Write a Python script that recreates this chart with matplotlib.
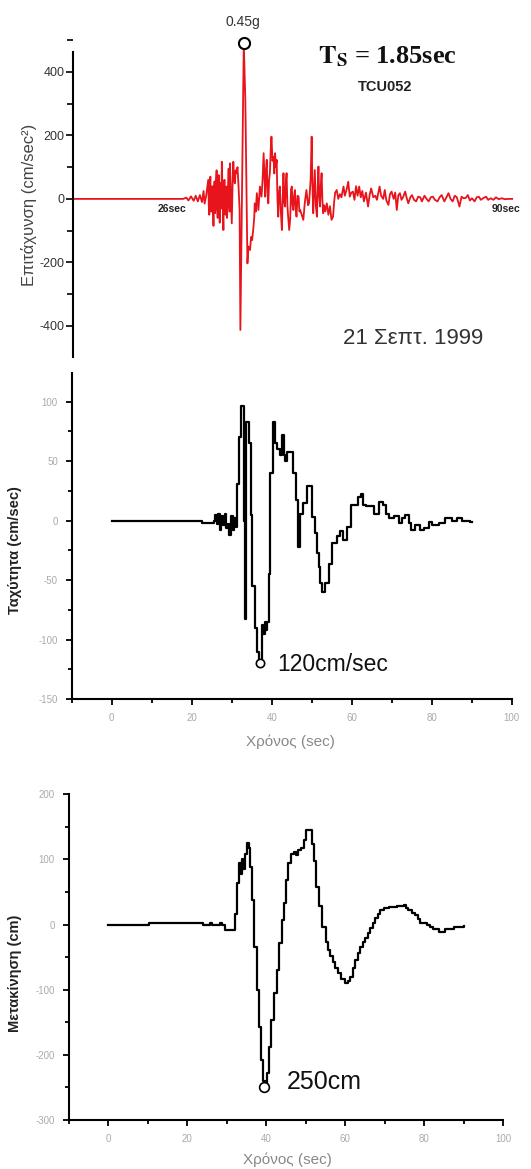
import numpy as np
import matplotlib
matplotlib.use("Agg")
import matplotlib.pyplot as plt
from matplotlib.ticker import MultipleLocator

plt.rcParams.update({
    "font.family": ["Liberation Sans", "DejaVu Sans"],
    "axes.unicode_minus": False,
    "mathtext.fontset": "stix",
})

# ---------------- data ----------------
# acceleration (cm/sec^2), time in sec
acc_t = [5.9, 27.0, 27.6, 28.0, 28.5, 29.0, 29.4, 29.8, 30.2, 30.6, 30.9, 31.1, 31.4,
         31.8, 31.9, 32.0, 32.1, 32.2, 32.3, 32.4, 32.5, 32.6, 32.7, 32.8, 32.9, 33.0,
         33.1, 33.2, 33.3, 33.4, 33.5, 33.6, 33.7, 33.8, 33.9, 34.0, 34.1, 34.2, 34.3,
         34.4, 34.5, 34.6, 34.7, 34.8, 34.9, 35.0, 35.1, 35.2, 35.3, 35.4, 35.5, 35.6,
         35.7, 35.8, 35.9, 35.96, 36.1, 36.3, 36.45, 36.6,
         36.75, 36.9, 37.05, 37.2, 37.4, 37.6, 37.8, 37.95, 38.6, 38.9, 39.3, 39.5, 39.8,
         40.0, 40.2, 40.4, 40.6, 40.7, 40.9, 41.1, 41.4, 41.7, 42.0, 42.2, 42.4, 42.55,
         42.7, 42.85, 43.0, 43.15, 43.3, 43.45, 43.6, 43.75, 43.9, 44.1, 44.3, 44.45, 44.6,
         44.75, 44.9, 45.05, 45.2, 45.35, 45.5, 45.7, 45.9, 46.05, 46.2, 46.35, 46.5, 46.65,
         46.8, 46.95, 47.1, 47.3, 47.5, 47.65, 47.8, 47.95, 48.1, 48.25, 48.4, 48.55, 48.7,
         48.9, 49.1, 49.25, 49.4, 49.7, 50.0, 50.3, 50.6, 50.9, 51.1, 51.4, 51.6, 51.75,
         51.9, 52.05, 52.2, 52.4, 52.6, 52.75, 52.9, 53.05, 53.2, 53.35, 53.5, 53.65, 53.8,
         54.0, 54.2, 54.5, 54.8, 55.1, 55.4, 55.7, 55.9, 56.1, 56.4, 56.7, 57.0, 57.3,
         57.7, 57.95, 58.3, 58.6, 58.9, 59.2, 59.5, 59.8, 60.1, 60.4, 60.7, 61.0, 61.3,
         61.6, 62.0, 62.4, 62.7, 63.0, 63.4, 63.8, 64.1, 64.6, 64.9, 65.3, 65.6, 65.9,
         66.3, 66.6, 66.9, 67.3, 67.6, 67.9, 68.2, 68.5, 68.8, 69.1, 69.5, 69.8, 70.1,
         70.5, 70.8, 71.2, 71.6, 72.0, 72.4, 72.7, 73.2, 73.6, 74.0, 74.4, 74.8, 75.2,
         75.7, 76.1, 76.5, 77.0, 77.4, 77.8, 78.2, 78.6, 79.0, 79.4, 79.9, 80.3, 80.7,
         81.1, 81.5, 81.9, 82.3, 82.8, 83.2, 83.6, 84.0, 84.5, 85.0, 85.4, 85.9, 86.4,
         86.9, 87.4, 88.0, 88.6, 89.2, 90.0]
acc_a = [0, 0, 4, -5, 8, -6, 10, -8, 12, -10, 25, -15, 10,
         60, -20, -50, 30, 70, -10, -40, 20, 40, -30, -85, 10, 55,
         -45, -30, 60, 90, -20, -60, 30, 75, -10, -75, 20, 50, -30,
         117, 30, -40, -98, 10, 60, -20, -50, 25, 39, -60, -20, 50,
         95, 20, -40, 112, 30, -77, 40, 117,
         60, 49, 90, 81, 100, 39, -35, -413, 490, 312, -203, -150, -161,
         -120, -130, -98, -60, -14, -40, 18, -35, 39, 7, 60, 144, 80,
         7, 90, 123, 20, -14, 60, 81, 150, 196, 120, 133, 80, 144,
         100, 123, 0, -56, 20, 39, -40, -98, 0, 81, -10, -24, 50,
         81, -20, -56, -98, -60, 30, 39, -20, -35, 10, 28, -30, -56,
         10, 7, -40, -35, -50, -66, -10, 28, -20, -14, 60, 196, 40,
         -45, 20, 91, -20, -56, 30, 102, 10, -24, 40, 81, 0, -45,
         -20, -40, -14, -50, -23, -66, -56, -10, 20, 28, 0, 15, 5,
         39, 10, 30, 54, 7, 20, 23, -3, 40, 10, 39, 5, 25,
         -8, 20, -24, 12, 33, 5, 10, -3, 39, 10, 0, 28, -5,
         -19, 15, 23, 0, 20, -35, 12, 18, -3, 5, 23, 3, -14,
         5, 12, -3, -8, 7, 5, -8, 10, 0, -8, 5, 7, -3,
         -8, 5, 12, -8, 5, 18, 0, -8, 10, 5, -24, 7, 2,
         3, 12, -5, 2, -8, 5, 7, -3, 3, 7, -3, 2, -3,
         5, -1, 2, -1, 0, 0]
acc_peak = (38.6, 490)

# velocity (cm/sec)
vel_t = [0, 22.5, 25.5, 25.8, 26.2, 26.6, 27.0, 27.4, 27.8, 28.2, 28.6, 29.0, 29.4,
         29.8, 30.2, 30.6, 31.0, 31.3, 31.9, 32.4, 33.1, 33.4, 33.6, 34.3, 34.7, 35.0,
         35.8, 36.4, 36.9, 37.5, 37.8, 38.2, 38.5, 38.9, 39.2, 39.6, 40.2, 40.8, 41.4,
         42.1, 42.6, 43.0, 43.4, 43.7, 44.6, 45.4, 46.1, 46.5, 47.0, 47.9, 48.7, 49.6,
         50.0, 50.8, 51.2, 51.7, 52.1, 52.5, 53.3, 54.2, 55.0, 56.2, 57.1, 57.9, 58.7,
         59.9, 61.5, 62.3, 62.9, 63.6, 65.6, 66.9, 67.7, 68.5, 69.3, 70.6, 71.8, 72.6,
         73.4, 74.3, 74.7, 75.9, 77.1, 78.0, 79.2, 80.0, 81.7, 83.3, 85.0, 86.2, 87.5,
         89.6, 90.0]
vel_v = [0, -2, 0, 5, -3, 6, -8, 4, -4, 6, -6, -3, -12,
         4, -8, 2, -5, 31, 70, 96, 0, -83, 83, 65, 5, -55,
         -90, -110, -118, -88, -95, -85, -92, -85, -45, 40, 83, 65, 60,
         55, 72, 55, 50, 58, 58, 40, 17, -22, 6, 15, 29, 29,
         3, -10, -27, -39, -52, -60, -52, -36, -19, -13, -9, -16, -5,
         13, 20, 22, 13, 12, 6, 16, 13, 6, 2, 4, -2, 2,
         5, -2, -8, -4, -8, -6, -1, -4, -2, 2, 0, 2, 0,
         -1, -1]
vel_peak = (37.1, -120)

# displacement (cm)
dis_t = [0, 10.4, 24.1, 25.7, 26.3, 28.2, 28.7, 29.5, 32.1, 32.7, 33.2, 33.5, 33.8,
         34.1, 34.6, 35.0, 35.6, 35.9, 36.3, 36.9, 37.6, 38.2, 38.7, 39.2, 39.7, 40.1,
         40.6, 41.2, 42.0, 42.6, 43.3, 43.9, 44.5, 45.0, 45.6, 46.2, 47.0, 47.6, 48.1,
         48.9, 49.5, 50.1, 50.9, 51.5, 52.1, 52.7, 53.4, 54.1, 55.0, 55.6, 56.1, 56.8,
         57.5, 58.2, 59.0, 59.9, 60.6, 61.2, 61.9, 62.5, 63.1, 63.7, 64.4, 65.0, 65.7,
         66.3, 67.0, 67.6, 68.2, 68.8, 69.8, 71.0, 73.1, 74.8, 75.4, 76.0, 76.9, 77.7,
         78.4, 79.0, 80.6, 81.5, 82.3, 83.6, 85.3, 87.4, 90.0]
dis_d = [0, 3, 0, 2, 0, 2, 0, -8, 17, 64, 95, 78, 100,
         85, 109, 125, 118, 89, 37, -34, -100, -157, -208, -240, -245, -228,
         -188, -147, -105, -70, -29, 7, 33, 69, 94, 109, 112, 107, 115,
         118, 130, 145, 145, 124, 97, 58, 28, -3, -26, -39, -49, -58,
         -67, -75, -84, -90, -86, -80, -67, -54, -44, -34, -27, -21, -13,
         -6, 2, 10, 16, 22, 25, 27, 28, 30, 26, 22, 18, 15,
         8, 3, -1, -4, -7, -11, -7, -3, -2]
dis_peak = (39.3, -250)

W, H = 531, 1169
fig = plt.figure(figsize=(W / 100, H / 100), dpi=100)


def rect(x0, y0, x1, y1):
    # pixel box -> figure fraction
    return [x0 / W, 1 - y1 / H, (x1 - x0) / W, (y1 - y0) / H]


# ---------------- acceleration ----------------
ax1 = fig.add_axes(rect(73, 30, 531, 357))
ax1.plot(acc_t, acc_a, color="#e8141b", lw=1.3)
ax1.plot(*acc_peak, marker="o", ms=8, mfc="white", mec="black", mew=1.5, clip_on=False)
ax1.set_xlim(5.9, 93.6)
ax1.set_ylim(-498, 532)
for s in ("top", "right", "bottom"):
    ax1.spines[s].set_visible(False)
ax1.spines["left"].set_bounds(-498, 463)
ax1.spines["left"].set_linewidth(1.5)
ax1.set_xticks([])
ax1.set_yticks([-400, -200, 0, 200, 400])
ax1.yaxis.set_minor_locator(MultipleLocator(100))
ax1.tick_params(axis="y", which="major", length=5, width=1.2, pad=1,
                labelsize=9, labelcolor="#333333")
ax1.tick_params(axis="y", which="minor", length=4, width=1.2)
ax1.text(38.45, 557, "0.45g", ha="center", va="center", fontsize=10, color="#333333")
ax1.text(24.9, -31, "26sec", ha="center", va="center", fontsize=7.5,
         fontweight="bold", color="#222222")
ax1.text(86.0, -31, "90sec", ha="left", va="center", fontsize=7.5,
         fontweight="bold", color="#222222")
fig.text(29 / W, 1 - 205 / H, "Επιτάχυνση (cm/sec²)", rotation=90,
         ha="center", va="center", fontsize=12, color="#444444")
fig.text(318 / W, 1 - 63 / H, r"$\mathbf{T_S}$ = 1.85sec", ha="left", va="baseline",
         fontsize=19, fontweight="bold", family="Liberation Serif", color="#111111")
fig.text(385 / W, 1 - 91 / H, "TCU052", ha="center", va="baseline",
         fontsize=10.5, fontweight="bold", color="#222222")
fig.text(413 / W, 1 - 344 / H, "21 Σεπτ. 1999", ha="center", va="baseline",
         fontsize=16, color="#333333")


def style_lower(ax, ylabel, ycenter):
    for s in ("top", "right"):
        ax.spines[s].set_visible(False)
    for s in ("left", "bottom"):
        ax.spines[s].set_linewidth(1.5)
    ax.set_xlim(-10, 100)
    ax.set_xticks([0, 20, 40, 60, 80, 100])
    ax.xaxis.set_minor_locator(MultipleLocator(10))
    ax.tick_params(which="major", length=4, width=1.3, pad=6,
                   labelsize=7, labelcolor="#aaaaaa")
    ax.tick_params(which="minor", length=3, width=1.3)
    fig.text(15 / W, 1 - ycenter / H, ylabel, rotation=90, ha="center",
             va="center", fontsize=10.5, fontweight="bold", color="#222222")


# ---------------- velocity ----------------
ax2 = fig.add_axes(rect(71.7, 373.1, 511.7, 699.2))
ax2.plot(vel_t, vel_v, color="black", lw=1.6, drawstyle="steps-post")
ax2.plot(*vel_peak, marker="o", ms=6, mfc="white", mec="black", mew=1.2)
ax2.set_ylim(-150, 124)
ax2.set_yticks([-150, -100, -50, 0, 50, 100])
ax2.yaxis.set_minor_locator(MultipleLocator(25))
style_lower(ax2, "Ταχύτητα (cm/sec)", 550)
ax2.text(41.3, -121, "120cm/sec", ha="left", va="center", fontsize=16.5, color="#111111")
fig.text(290 / W, 1 - 742 / H, "Χρόνος (sec)", ha="center", va="center",
         fontsize=11, color="#888888")

# ---------------- displacement ----------------
ax3 = fig.add_axes(rect(68.8, 794.3, 503.3, 1120))
ax3.plot(dis_t, dis_d, color="black", lw=1.6, drawstyle="steps-post")
ax3.plot(*dis_peak, marker="o", ms=7, mfc="white", mec="black", mew=1.2)
ax3.set_ylim(-300, 200)
ax3.set_yticks([-300, -200, -100, 0, 100, 200])
ax3.yaxis.set_minor_locator(MultipleLocator(50))
style_lower(ax3, "Μετακίνηση (cm)", 973)
ax3.text(45.2, -241, "250cm", ha="left", va="center", fontsize=18, color="#111111")
fig.text(287 / W, 1 - 1160 / H, "Χρόνος (sec)", ha="center", va="center",
         fontsize=11, color="#888888")

fig.savefig("out.png", dpi=100, facecolor="white")
